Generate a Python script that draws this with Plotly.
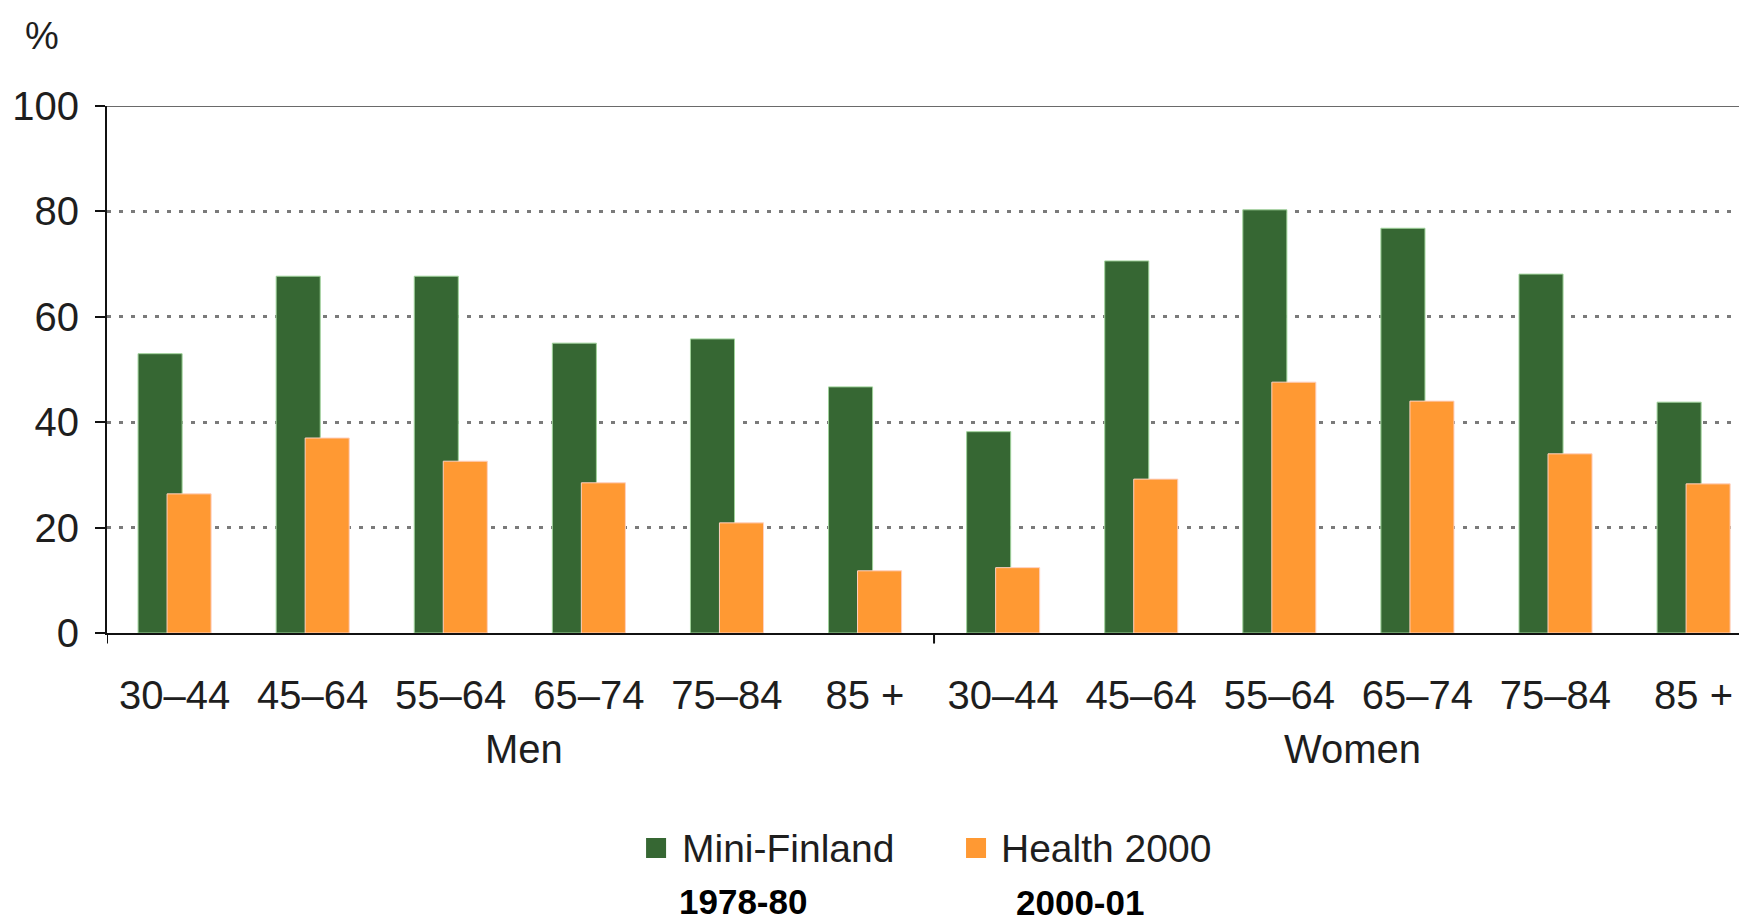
import plotly.graph_objects as go

groups = ["Men", "Women"]
ages = ["30–44", "45–64", "55–64", "65–74", "75–84", "85 +"]
mini_finland_men = [53, 67.7, 67.7, 55, 55.8, 46.7]
mini_finland_women = [38.2, 70.6, 80.3, 76.8, 68.1, 43.8]
health_2000_men = [26.4, 37, 32.6, 28.5, 20.9, 11.8]
health_2000_women = [12.4, 29.2, 47.6, 44, 34, 28.3]
series_names = ["Mini-Finland", "Health 2000"]
series_years = ["1978-80", "2000-01"]
colors = ["#366733", "#FF9933"]
edge_colors = ["#9fd29a", "#ffd0c0"]
yticks = [0, 20, 40, 60, 80, 100]

FONT = "Liberation Sans, Arial, sans-serif"
TXT = "#1e1e1e"

labels = ages * len(groups)
xpos = list(range(len(labels)))
series = [mini_finland_men + mini_finland_women, health_2000_men + health_2000_women]

fig = go.Figure()
bw = 0.319
for vals, col, ecol, name, off in zip(series, colors, edge_colors,
                                       series_names, [-0.264, -0.054]):
    fig.add_trace(go.Bar(x=xpos, y=vals, name=name, width=bw, offset=off,
                         marker=dict(color=col, line=dict(color=ecol, width=1)),
                         customdata=labels, showlegend=False))

# page body has an 8px margin, so the figure is 8px smaller to keep the same placement
fig.update_layout(
    barmode="overlay",
    width=1739, height=914,
    margin=dict(l=99, r=0, t=98, b=289),
    plot_bgcolor="white", paper_bgcolor="white",
    font=dict(family=FONT, size=40, color=TXT),
)
fig.update_yaxes(range=[0, 100], tickvals=yticks, showgrid=True, gridcolor="#7a7a7a",
                 gridwidth=2.5, griddash="4px,8px", showline=True, linecolor="#111",
                 linewidth=2, ticks="outside", ticklen=10, tickcolor="#111", tickwidth=2,
                 zeroline=False, ticklabelstandoff=8,
                 tickfont=dict(size=40, color=TXT))
fig.update_xaxes(range=[-0.489, 11.387], tickvals=xpos, ticktext=labels,
                 showgrid=False, zeroline=False, showline=True,
                 linecolor="#111", linewidth=2, ticks="",
                 ticklabelstandoff=26,
                 tickfont=dict(size=40, color=TXT))

# group labels centred under their categories
n = len(ages)
for gi, g in enumerate(groups):
    centre = sum(xpos[gi * n:(gi + 1) * n]) / n
    fig.add_annotation(text=g, xref="x", yref="paper", x=centre + 0.03, y=-0.220,
                       xanchor="center", yanchor="middle", showarrow=False,
                       font=dict(size=40, color=TXT))
    # short separator tick at group boundary
    fig.add_shape(type="line", xref="x", yref="paper", x0=gi * n - 0.5 + (0.011 if gi == 0 else 0),
                  x1=gi * n - 0.5 + (0.011 if gi == 0 else 0), y0=0, y1=-0.02,
                  line=dict(color="#111", width=2))

# top solid line at 100
fig.add_shape(type="line", xref="paper", yref="y", x0=0, x1=1, y0=100, y1=100,
              line=dict(color="#6a6a6a", width=2))

fig.add_annotation(text="%", xref="paper", yref="paper", x=-0.0396, y=1.133,
                   xanchor="center", yanchor="middle",
                   showarrow=False, font=dict(size=38, color=TXT))

# legend
sq = [(0.3287, 0.3409), (0.5238, 0.5360)]
txt_left = [0.3494, 0.5439]
yr_center = [(0.3878, -0.509), (0.5933, -0.511)]
for (a, b), col, tl, name, yr, (cx, cy) in zip(sq, colors, txt_left, series_names,
                                               series_years, yr_center):
    fig.add_shape(type="rect", xref="paper", yref="paper", x0=a, x1=b, y0=-0.389, y1=-0.427,
                  fillcolor=col, line=dict(width=0))
    fig.add_annotation(text=name, xref="paper", yref="paper", x=tl, y=-0.408,
                       xanchor="left", yanchor="middle", showarrow=False,
                       font=dict(size=39, color=TXT))
    fig.add_annotation(text="<b>" + yr + "</b>", xref="paper", yref="paper", x=cx, y=cy,
                       xanchor="center", yanchor="middle", showarrow=False,
                       font=dict(size=35, color="#000",
                                 family="Liberation Sans Narrow, Arial Narrow, Liberation Sans"))

fig.write_html("out.html")
